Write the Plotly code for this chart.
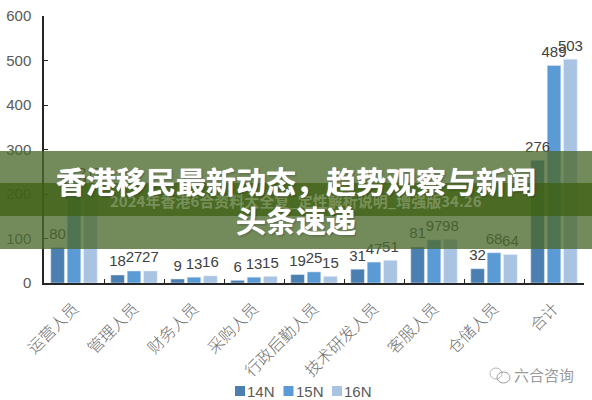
import plotly.graph_objects as go

categories = ["运营人员", "管理人员", "财务人员", "采购人员", "行政后勤人员", "技术研发人员", "客服人员", "仓储人员", "合计"]
n14 = [80, 18, 9, 6, 19, 31, 81, 32, 276]
n15 = [199, 27, 13, 13, 25, 47, 97, 68, 489]
n16 = [217, 27, 16, 15, 15, 51, 98, 64, 503]
series = ["14N", "15N", "16N"]
colors = ["#4a7fb0", "#5b9bd5", "#a9c3e3"]

title_lines = "香港移民最新动态，趋势观察与新闻<br>头条速递"
subtitle = "2024年香港6合资料大全复_定性解析说明_增强版34.26"
source = "六合咨询"

W, H = 592, 400
L, R, T, B = 44, 8, 16, 117
PW, PH = W - L - R, H - T - B


def px(x):
    return (x - L) / PW


def py(y):
    return (H - B - y) / PH


fig = go.Figure()
for name, vals, color in zip(series, [n14, n15, n16], colors):
    fig.add_trace(go.Bar(
        x=categories, y=vals, name=name, marker_color=color, showlegend=False, offsetgroup=name,
    ))
# value labels as a text layer, invisible marker size sets the lift above the bar
for name, vals in zip(series, [n14, n15, n16]):
    fig.add_trace(go.Scatter(
        x=categories, y=vals, mode="markers+text", text=vals, textposition="top center",
        marker=dict(size=6, opacity=0), showlegend=False, offsetgroup=name, cliponaxis=False,
        textfont=dict(family="Liberation Sans", size=15, color="#404040"),
    ))

# 帯 (outer and inner band across the picture)
shapes = [
    dict(type="rect", xref="paper", yref="paper", x0=px(0), x1=px(W), y0=py(249), y1=py(151),
         fillcolor="rgba(75,105,45,0.78)", line_width=0, layer="above"),
    dict(type="rect", xref="paper", yref="paper", x0=px(0), x1=px(W), y0=py(216), y1=py(183),
         fillcolor="rgba(60,95,15,0.72)", line_width=0, layer="above"),
    # wechat mark next to the source text
    dict(type="circle", xref="paper", yref="paper", x0=px(490), x1=px(502), y0=py(379), y1=py(368),
         line=dict(color="#b5b5b5", width=1), layer="above"),
    dict(type="circle", xref="paper", yref="paper", x0=px(497), x1=px(510), y0=py(383), y1=py(372),
         line=dict(color="#9a9a9a", width=1), layer="above"),
]

annotations = [
    dict(text=subtitle, xref="paper", yref="paper", x=px(296), y=py(200), showarrow=False,
         xanchor="center", yanchor="middle",
         font=dict(family="Noto Sans CJK SC", size=15, color="rgba(190,200,170,0.42)", weight="bold")),
    dict(text=title_lines, xref="paper", yref="paper", x=px(296), y=py(199), showarrow=False,
         xanchor="center", yanchor="middle", align="center",
         font=dict(family="Noto Sans CJK SC", size=30, color="white", weight="bold",
                   shadow="0 0 1px white, 1px 1px 2px rgba(0,0,0,0.35)")),
    dict(text=source, xref="paper", yref="paper", x=px(544), y=py(374), showarrow=False,
         xanchor="center", yanchor="middle",
         font=dict(family="Noto Sans CJK SC", size=15, color="#9a9a9a")),
]

# legend drawn by hand, the built-in one spaces its entries too wide
for i, (name, color) in enumerate(zip(series, colors)):
    left = 235 + i * 48.5
    shapes.append(dict(type="rect", xref="paper", yref="paper", x0=px(left), x1=px(left + 10),
                       y0=py(396), y1=py(386), fillcolor=color, line_width=0))
    annotations.append(dict(text=name, xref="paper", yref="paper", x=px(left + 12), y=py(391),
                            showarrow=False, xanchor="left", yanchor="middle", xshift=-2,
                            font=dict(size=15, color="#595959")))

fig.update_layout(
    width=W, height=H, margin=dict(l=L, r=R, t=T, b=B, autoexpand=False),
    barmode="group", bargap=0.18, bargroupgap=0.17, scattermode="group", scattergap=0.18,
    plot_bgcolor="white", paper_bgcolor="white",
    font=dict(family="Liberation Sans", color="#595959"),
    shapes=shapes, annotations=annotations,
)
fig.update_xaxes(
    showline=True, linecolor="#262626", linewidth=1.5, showgrid=False,
    ticks="inside", tickson="boundaries", ticklen=4, tickcolor="#262626",
    tickangle=-45, ticklabelstandoff=8,
    tickfont=dict(family="Noto Sans CJK SC", size=16, color="#707070", weight=300),
)
fig.update_yaxes(
    range=[0, 600], dtick=100, showline=True, linecolor="#262626", linewidth=1.5, showgrid=False,
    ticks="inside", ticklen=4, tickcolor="#262626", zeroline=False, ticklabelstandoff=8,
    tickfont=dict(family="Liberation Sans", size=15, color="#595959"),
)

# body margin would push the figure 8px off
fig.write_html("out.html", config={"displayModeBar": False}, post_script="document.body.style.margin='0';")
